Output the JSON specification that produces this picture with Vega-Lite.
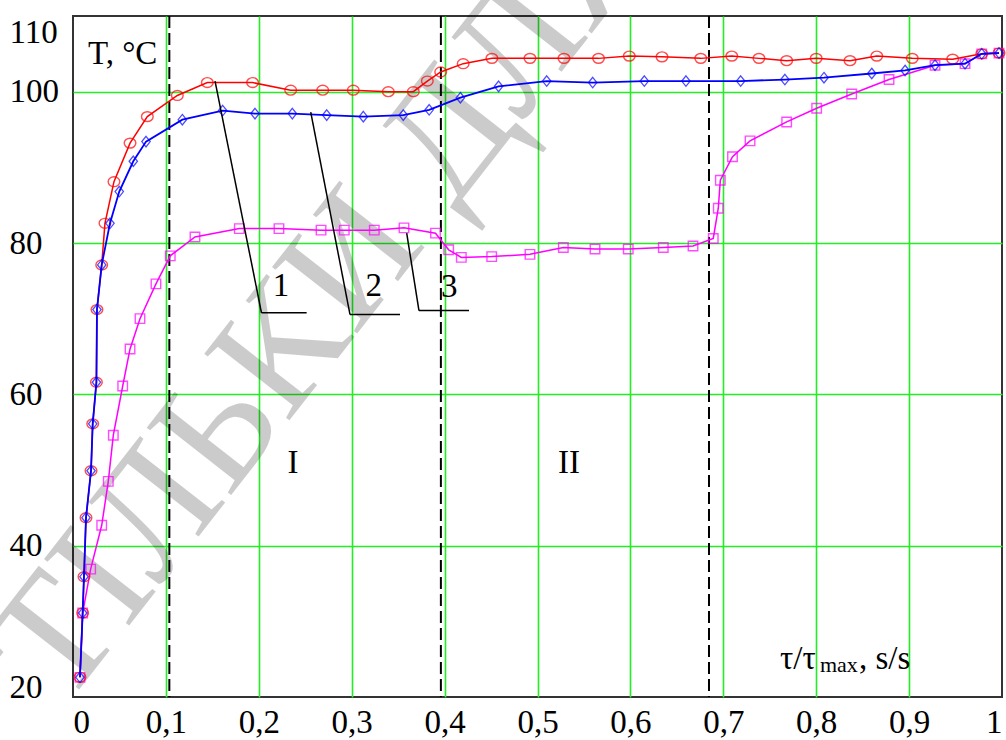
{
  "$schema": "https://vega.github.io/schema/vega-lite/v6.json",
  "width": 929,
  "height": 681,
  "autosize": {"type": "none"},
  "padding": {"left": 73, "top": 16, "right": 4, "bottom": 43},
  "background": "white",
  "config": {
    "view": {"stroke": "#333333", "strokeWidth": 2},
    "font": "Liberation Serif",
    "axis": {
      "labelFont": "Liberation Serif",
      "labelFontSize": 33,
      "labelColor": "#000000",
      "tickSize": 0,
      "domain": false,
      "gridColor": "#22ee22",
      "gridWidth": 1.6
    }
  },
  "datasets": {
    "curve1": [
      {"x": 0.0075, "y": 22.6}, {"x": 0.0104, "y": 31.1}, {"x": 0.0118, "y": 35.9},
      {"x": 0.014, "y": 43.7}, {"x": 0.0194, "y": 49.9}, {"x": 0.0212, "y": 56.1},
      {"x": 0.0252, "y": 61.6}, {"x": 0.0258, "y": 71.2}, {"x": 0.0309, "y": 77.1},
      {"x": 0.0344, "y": 82.6}, {"x": 0.0441, "y": 88.1}, {"x": 0.0614, "y": 93.2},
      {"x": 0.080, "y": 96.7}, {"x": 0.1123, "y": 99.5}, {"x": 0.1446, "y": 101.2},
      {"x": 0.1933, "y": 101.2}, {"x": 0.2343, "y": 100.2}, {"x": 0.2688, "y": 100.2},
      {"x": 0.3017, "y": 100.2}, {"x": 0.3394, "y": 100.0}, {"x": 0.3663, "y": 100.0},
      {"x": 0.3814, "y": 101.4}, {"x": 0.3958, "y": 102.6}, {"x": 0.42, "y": 103.7},
      {"x": 0.4509, "y": 104.4}, {"x": 0.4919, "y": 104.4}, {"x": 0.5285, "y": 104.4},
      {"x": 0.5657, "y": 104.4}, {"x": 0.5988, "y": 104.7}, {"x": 0.634, "y": 104.6},
      {"x": 0.6757, "y": 104.4}, {"x": 0.7091, "y": 104.7}, {"x": 0.7384, "y": 104.4},
      {"x": 0.7682, "y": 104.1}, {"x": 0.80, "y": 104.4}, {"x": 0.8364, "y": 104.1},
      {"x": 0.8652, "y": 104.7}, {"x": 0.9034, "y": 104.4}, {"x": 0.9469, "y": 104.3},
      {"x": 0.9782, "y": 105.0}, {"x": 0.9968, "y": 105.1}
    ],
    "curve2": [
      {"x": 0.0075, "y": 22.6}, {"x": 0.0104, "y": 31.1}, {"x": 0.0118, "y": 35.9},
      {"x": 0.014, "y": 43.7}, {"x": 0.0194, "y": 49.9}, {"x": 0.0212, "y": 56.1},
      {"x": 0.0252, "y": 61.6}, {"x": 0.0258, "y": 71.2}, {"x": 0.0309, "y": 77.1},
      {"x": 0.0398, "y": 82.6}, {"x": 0.0498, "y": 86.8}, {"x": 0.0649, "y": 90.8},
      {"x": 0.0786, "y": 93.4}, {"x": 0.1177, "y": 96.3}, {"x": 0.1611, "y": 97.5},
      {"x": 0.1959, "y": 97.1}, {"x": 0.2361, "y": 97.1}, {"x": 0.2731, "y": 96.9},
      {"x": 0.3125, "y": 96.7}, {"x": 0.3555, "y": 96.9}, {"x": 0.3834, "y": 97.6},
      {"x": 0.417, "y": 99.2}, {"x": 0.4581, "y": 100.7}, {"x": 0.5099, "y": 101.4},
      {"x": 0.5594, "y": 101.2}, {"x": 0.615, "y": 101.4}, {"x": 0.6598, "y": 101.4},
      {"x": 0.7187, "y": 101.4}, {"x": 0.7663, "y": 101.6}, {"x": 0.8084, "y": 101.85},
      {"x": 0.8598, "y": 102.4}, {"x": 0.8957, "y": 102.8}, {"x": 0.9279, "y": 103.5},
      {"x": 0.9602, "y": 103.7}, {"x": 0.9782, "y": 105.0}, {"x": 0.9968, "y": 105.1}
    ],
    "curve3": [
      {"x": 0.0075, "y": 22.6}, {"x": 0.0104, "y": 31.1}, {"x": 0.019, "y": 36.9},
      {"x": 0.0309, "y": 42.7}, {"x": 0.038, "y": 48.5}, {"x": 0.0434, "y": 54.6},
      {"x": 0.0535, "y": 61.1}, {"x": 0.0614, "y": 66.0}, {"x": 0.0721, "y": 70.0},
      {"x": 0.0893, "y": 74.6}, {"x": 0.1047, "y": 78.3}, {"x": 0.1313, "y": 80.8},
      {"x": 0.179, "y": 81.9}, {"x": 0.2217, "y": 81.9}, {"x": 0.267, "y": 81.7},
      {"x": 0.292, "y": 81.7}, {"x": 0.3243, "y": 81.7}, {"x": 0.3563, "y": 82.0},
      {"x": 0.3902, "y": 81.3}, {"x": 0.4044, "y": 79.1}, {"x": 0.418, "y": 78.1},
      {"x": 0.4507, "y": 78.2}, {"x": 0.4919, "y": 78.5}, {"x": 0.5278, "y": 79.4},
      {"x": 0.5619, "y": 79.2}, {"x": 0.5977, "y": 79.2}, {"x": 0.6354, "y": 79.4},
      {"x": 0.6674, "y": 79.6}, {"x": 0.6892, "y": 80.6}, {"x": 0.6946, "y": 84.6},
      {"x": 0.6968, "y": 88.3}, {"x": 0.7099, "y": 91.4}, {"x": 0.7288, "y": 93.5},
      {"x": 0.7682, "y": 96.0}, {"x": 0.8005, "y": 97.8}, {"x": 0.8382, "y": 99.7},
      {"x": 0.8784, "y": 101.6}, {"x": 0.9279, "y": 103.5}, {"x": 0.9602, "y": 103.7},
      {"x": 0.9782, "y": 105.0}, {"x": 0.9968, "y": 105.1}
    ],
    "dashes": [{"x": 0.1037}, {"x": 0.396}, {"x": 0.6846}],
    "leaders": [
      {"x": 0.1529, "y": 101.4, "x2": 0.2029, "y2": 70.77},
      {"x": 0.2029, "y": 70.77, "x2": 0.2515, "y2": 70.77},
      {"x": 0.2559, "y": 97.3, "x2": 0.2982, "y2": 70.54},
      {"x": 0.2982, "y": 70.54, "x2": 0.352, "y2": 70.54},
      {"x": 0.3592, "y": 81.3, "x2": 0.3724, "y2": 71.07},
      {"x": 0.3724, "y": 71.07, "x2": 0.4263, "y2": 71.07}
    ],
    "centered": [
      {"t": "1", "x": 0.2239, "y": 73.05},
      {"t": "2", "x": 0.3237, "y": 73.05},
      {"t": "3", "x": 0.405, "y": 72.8},
      {"t": "I", "x": 0.2368, "y": 49.6},
      {"t": "II", "x": 0.534, "y": 49.6}
    ],
    "lefttext": [
      {"t": "T, °C", "x": 0.0161, "y": 103.65},
      {"t": "τ/τ", "x": 0.761, "y": 23.7},
      {"t": ", s/s", "x": 0.846, "y": 23.7}
    ],
    "subtext": [{"t": "max", "x": 0.804, "y": 23.3}],
    "watermark": [{"t": "ТІЛЬКИ ДЛЯ ЧИТАННЯ", "x": -0.0527, "y": 22.4}]
  },
  "layer": [
    {
      "data": {"name": "watermark"},
      "mark": {"type": "text", "align": "left", "baseline": "middle", "angle": -52, "fontSize": 165, "font": "Liberation Serif", "color": "#000000", "opacity": 0.2},
      "encoding": {
        "x": {"field": "x", "type": "quantitative", "scale": {"domain": [0, 1], "nice": false, "zero": false},
          "axis": {"title": null, "values": [0, 0.1, 0.2, 0.3, 0.4, 0.5, 0.6, 0.7, 0.8, 0.9, 1], "labelExpr": "replace(format(datum.value, '~g'), '.', ',')", "labelFlush": true, "labelPadding": 9,
            "gridOpacity": {"condition": {"test": "datum.value == 0 || datum.value == 1", "value": 0}, "value": 1}}},
        "y": {"field": "y", "type": "quantitative", "scale": {"domain": [20, 110], "nice": false, "zero": false},
          "axis": {"title": null, "values": [20, 40, 60, 80, 100, 110], "labelAlign": "left", "labelPadding": 64,
            "labelBaseline": {"condition": [{"test": "datum.value == 110", "value": "top"}, {"test": "datum.value == 20", "value": "alphabetic"}], "value": "middle"},
            "gridOpacity": {"condition": {"test": "datum.value == 20 || datum.value == 110", "value": 0}, "value": 1}}},
        "text": {"field": "t"}
      }
    },
    {
      "data": {"name": "dashes"},
      "mark": {"type": "rule", "color": "#000000", "strokeWidth": 2, "strokeDash": [12, 5]},
      "encoding": {"x": {"field": "x", "type": "quantitative"}}
    },
    {
      "data": {"name": "curve3"},
      "mark": {"type": "line", "color": "#ff00ff", "strokeWidth": 1.5},
      "encoding": {"x": {"field": "x", "type": "quantitative"}, "y": {"field": "y", "type": "quantitative"}}
    },
    {
      "data": {"name": "curve3"},
      "mark": {"type": "point", "shape": "square", "filled": false, "color": "#ff00ff", "size": 90, "strokeWidth": 1.4},
      "encoding": {"x": {"field": "x", "type": "quantitative"}, "y": {"field": "y", "type": "quantitative"}}
    },
    {
      "data": {"name": "curve1"},
      "mark": {"type": "line", "color": "#ff0000", "strokeWidth": 1.5},
      "encoding": {"x": {"field": "x", "type": "quantitative"}, "y": {"field": "y", "type": "quantitative"}}
    },
    {
      "data": {"name": "curve1"},
      "mark": {"type": "point", "shape": "M-1,0A1,0.85 0 1,0 1,0A1,0.85 0 1,0 -1,0Z", "filled": false, "color": "#ff0000", "size": 135, "strokeWidth": 1.4},
      "encoding": {"x": {"field": "x", "type": "quantitative"}, "y": {"field": "y", "type": "quantitative"}}
    },
    {
      "data": {"name": "curve2"},
      "mark": {"type": "line", "color": "#0000ff", "strokeWidth": 1.8},
      "encoding": {"x": {"field": "x", "type": "quantitative"}, "y": {"field": "y", "type": "quantitative"}}
    },
    {
      "data": {"name": "curve2"},
      "mark": {"type": "point", "shape": "M0,-1L0.8,0L0,1L-0.8,0Z", "filled": false, "color": "#0000ff", "size": 110, "strokeWidth": 1.3},
      "encoding": {"x": {"field": "x", "type": "quantitative"}, "y": {"field": "y", "type": "quantitative"}}
    },
    {
      "data": {"name": "leaders"},
      "mark": {"type": "rule", "color": "#000000", "strokeWidth": 1.5},
      "encoding": {
        "x": {"field": "x", "type": "quantitative"}, "x2": {"field": "x2"},
        "y": {"field": "y", "type": "quantitative"}, "y2": {"field": "y2"}
      }
    },
    {
      "data": {"name": "centered"},
      "mark": {"type": "text", "align": "center", "baseline": "alphabetic", "fontSize": 33, "font": "Liberation Serif", "color": "#000000"},
      "encoding": {"x": {"field": "x", "type": "quantitative"}, "y": {"field": "y", "type": "quantitative"}, "text": {"field": "t"}}
    },
    {
      "data": {"name": "lefttext"},
      "mark": {"type": "text", "align": "left", "baseline": "alphabetic", "fontSize": 33, "font": "Liberation Serif", "color": "#000000"},
      "encoding": {"x": {"field": "x", "type": "quantitative"}, "y": {"field": "y", "type": "quantitative"}, "text": {"field": "t"}}
    },
    {
      "data": {"name": "subtext"},
      "mark": {"type": "text", "align": "left", "baseline": "alphabetic", "fontSize": 22, "font": "Liberation Serif", "color": "#000000"},
      "encoding": {"x": {"field": "x", "type": "quantitative"}, "y": {"field": "y", "type": "quantitative"}, "text": {"field": "t"}}
    }
  ]
}
